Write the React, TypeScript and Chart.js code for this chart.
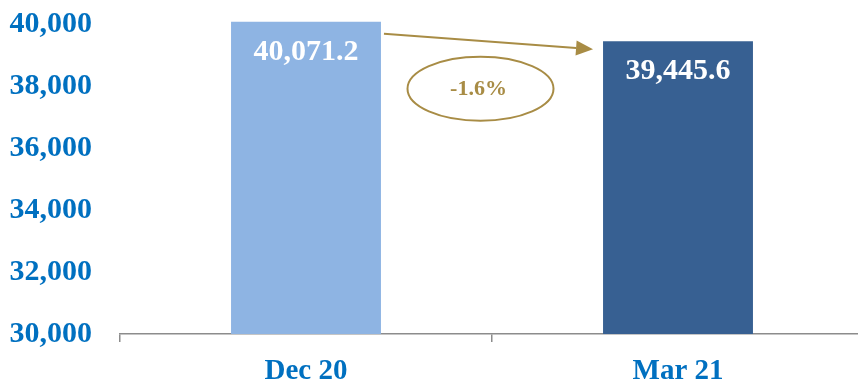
import React, { useEffect, useRef } from "react";
import { Chart, registerables } from "chart.js";

Chart.register(...registerables);

const categories = ["Dec 20", "Mar 21"];
const values = [40071.2, 39445.6];
const barColors = ["#8EB4E3", "#376092"];
const valueLabels = ["40,071.2", "39,445.6"];
const changeLabel = "-1.6%";
const yMin = 30000;
const yMax = 40000;
const yStep = 2000;

const FONT = "'Liberation Serif', 'Times New Roman', serif";
const BLUE = "#0070C0";
const GOLD = "#A88C45";

const annotationPlugin = {
  id: "annotations",
  afterDatasetsDraw(chart: any) {
    const ctx = chart.ctx;
    const meta = chart.getDatasetMeta(0);
    const b1 = meta.data[0] as any;
    const b2 = meta.data[1] as any;
    if (!b1 || !b2) return;

    ctx.save();
    ctx.fillStyle = "#FFFFFF";
    ctx.font = `bold 30px ${FONT}`;
    ctx.textAlign = "center";
    ctx.textBaseline = "alphabetic";
    meta.data.forEach((bar: any, i: number) => {
      ctx.fillText(valueLabels[i], bar.x, bar.y + 38);
    });
    ctx.restore();

    const sx = b1.x + b1.width / 2 + 3;
    const sy = b1.y + 12;
    const ex = b2.x - b2.width / 2 - 10;
    const ey = b2.y + 8;
    const ang = Math.atan2(ey - sy, ex - sx);
    const headLen = 17;
    const headHalf = 7.5;
    ctx.save();
    ctx.strokeStyle = GOLD;
    ctx.fillStyle = GOLD;
    ctx.lineWidth = 2;
    ctx.beginPath();
    ctx.moveTo(sx, sy);
    const bx = ex - headLen * Math.cos(ang);
    const by = ey - headLen * Math.sin(ang);
    ctx.lineTo(bx, by);
    ctx.stroke();
    ctx.beginPath();
    ctx.moveTo(ex, ey);
    ctx.lineTo(bx + headHalf * Math.sin(ang), by - headHalf * Math.cos(ang));
    ctx.lineTo(bx - headHalf * Math.sin(ang), by + headHalf * Math.cos(ang));
    ctx.closePath();
    ctx.fill();

    const cx = (sx + ex) / 2 - 8;
    const cy = b1.y + 67;
    ctx.lineWidth = 2;
    ctx.beginPath();
    ctx.ellipse(cx, cy, 73, 32, 0, 0, Math.PI * 2);
    ctx.stroke();
    ctx.font = `bold 22px ${FONT}`;
    ctx.textAlign = "center";
    ctx.textBaseline = "middle";
    ctx.fillText(changeLabel, cx - 2, cy + 1);
    ctx.restore();
  },
};

export default function App() {
  const ref = useRef<HTMLCanvasElement>(null);

  useEffect(() => {
    if (!ref.current) return;
    const chart = new Chart(ref.current, {
      type: "bar",
      data: {
        labels: categories,
        datasets: [
          {
            data: values,
            backgroundColor: barColors,
            borderWidth: 0,
            barPercentage: 0.403,
            categoryPercentage: 1,
            clip: { left: 0, right: 0, bottom: 0, top: false } as any,
          },
        ],
      },
      options: {
        animation: false,
        responsive: false,
        devicePixelRatio: 1,
        layout: { padding: { top: 24, right: 0, left: 0, bottom: 0 } },
        plugins: {
          legend: { display: false },
          tooltip: { enabled: false },
        },
        scales: {
          x: {
            offset: true,
            grid: {
              display: true,
              drawOnChartArea: false,
              drawTicks: true,
              tickLength: 8,
              color: "#8C8C8C",
              lineWidth: 1.5,
              offset: true,
            },
            border: { display: true, color: "#8C8C8C", width: 1.5 },
            ticks: {
              color: BLUE,
              font: { family: FONT, size: 29, weight: "bold" },
              padding: 12,
              maxRotation: 0,
              autoSkip: false,
            },
            afterFit: (scale: any) => {
              scale.height = 50;
            },
          },
          y: {
            min: yMin,
            max: yMax,
            grid: { display: false, drawTicks: false },
            border: { display: false },
            ticks: {
              stepSize: yStep,
              color: BLUE,
              padding: 28,
              font: { family: FONT, size: 30, weight: "bold" },
              callback: (v: any) => Number(v).toLocaleString("en-US"),
            },
            afterFit: (scale: any) => {
              scale.width = 120;
              scale.paddingTop = 0;
              scale.paddingBottom = 0;
            },
          },
        },
      },
      plugins: [annotationPlugin],
    });
    return () => chart.destroy();
  }, []);

  return (
    <div
      style={{
        position: "fixed",
        left: 0,
        top: 0,
        width: 858,
        height: 384,
        overflow: "hidden",
        background: "#FFFFFF",
      }}
    >
      <canvas ref={ref} width={864} height={384} style={{ display: "block" }} />
    </div>
  );
}
